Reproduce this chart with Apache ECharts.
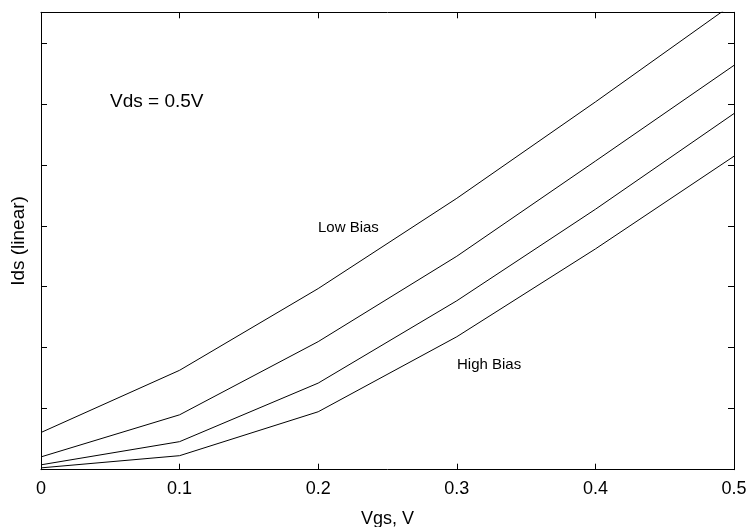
<!DOCTYPE html>
<html>
<head>
<meta charset="utf-8">
<script src="https://cdn.jsdelivr.net/npm/echarts@6/dist/echarts.min.js"></script>
<style>
html,body{margin:0;padding:0;background:#fff;}
#main{width:747px;height:527px;}
</style>
</head>
<body>
<div id="main"></div>
<script>
var vgs = [0, 0.1, 0.2, 0.3, 0.4, 0.5];
var bias1 = [0.61, 1.63, 2.97, 4.45, 6.03, 7.65];
var bias2 = [0.21, 0.90, 2.10, 3.50, 5.06, 6.63];
var bias3 = [0.08, 0.46, 1.42, 2.77, 4.27, 5.84];
var bias4 = [0.03, 0.23, 0.95, 2.18, 3.62, 5.14];
var xTicks = ['0', '0.1', '0.2', '0.3', '0.4', '0.5'];

function pairs(ys){ return vgs.map(function(x,i){ return [x, ys[i]]; }); }
var font = 'Liberation Sans, Arial, Helvetica, sans-serif';
var black = '#000';

var chart = echarts.init(document.getElementById('main'), null, {renderer:'canvas'});
var baseX = {
  type:'value', min:0, max:0.5, interval:0.1,
  axisLine:{show:true, onZero:false, lineStyle:{color:black, width:1}},
  axisTick:{show:true, inside:true, length:6, lineStyle:{color:black}},
  splitLine:{show:false}
};
var baseY = {
  type:'value', min:0, max:7.5, interval:1,
  axisLine:{show:true, onZero:false, lineStyle:{color:black, width:1}},
  axisTick:{show:true, inside:true, length:6, lineStyle:{color:black}},
  axisLabel:{show:false},
  splitLine:{show:false}
};
var series = [bias1, bias2, bias3, bias4].map(function(d){
  return {type:'line', data:pairs(d), symbol:'none', clip:true, silent:true,
    lineStyle:{color:black, width:1}, animation:false};
});
chart.setOption({
  animation:false,
  backgroundColor:'#fff',
  grid:{left:41, right:13, top:12.3, bottom:57.3, containLabel:false, outerBoundsMode:'none'},
  xAxis:[
    Object.assign({}, baseX, {position:'bottom',
      name:'Vgs, V', nameLocation:'middle', nameGap:40,
      nameTextStyle:{color:black, fontSize:18, fontFamily:font},
      axisLabel:{show:true, margin:10, color:black, fontSize:18, fontFamily:font,
        formatter:function(v){ var i=Math.round(v*10); return xTicks[i]; }}}),
    Object.assign({}, baseX, {position:'top', axisLabel:{show:false}})
  ],
  yAxis:[
    Object.assign({}, baseY, {position:'left',
      name:'Ids (linear)', nameLocation:'middle', nameGap:13,
      nameTextStyle:{color:black, fontSize:19, fontFamily:font}}),
    Object.assign({}, baseY, {position:'right'})
  ],
  series:series,
  graphic:[
    {type:'text', left:110, top:92, style:{text:'Vds = 0.5V', fill:black, font:'19px '+font}},
    {type:'text', left:318, top:220, style:{text:'Low Bias', fill:black, font:'15px '+font}},
    {type:'text', left:457, top:357, style:{text:'High Bias', fill:black, font:'15px '+font}}
  ]
});
</script>
</body>
</html>
